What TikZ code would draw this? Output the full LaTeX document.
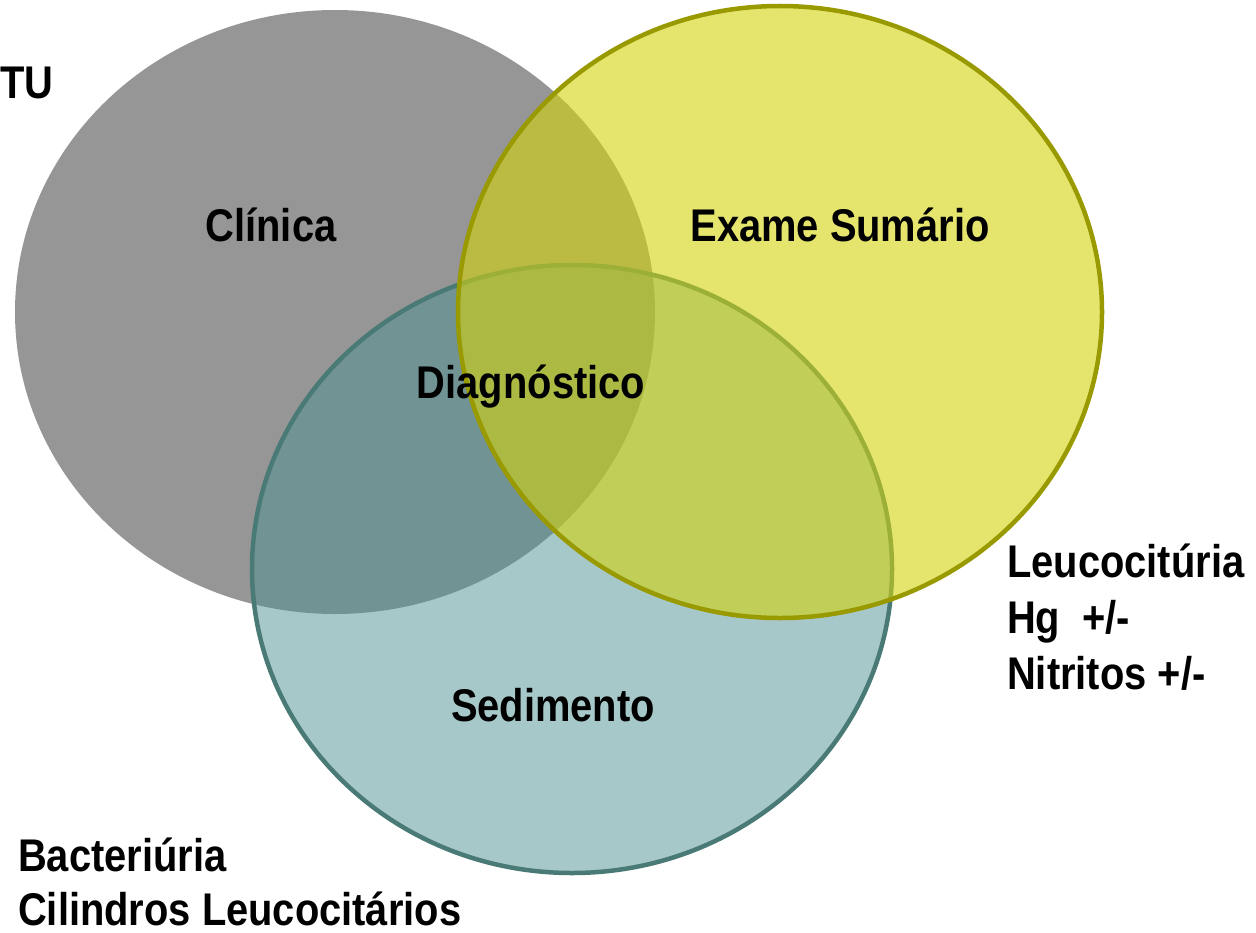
\documentclass[tikz,border=0pt]{standalone}
\usepackage{fontspec}
\setmainfont{Liberation Sans}[FakeStretch=0.87]
\begin{document}
\begin{tikzpicture}[x=1bp,y=-1bp,
  lbl/.style={font=\fontsize{46}{56}\selectfont\bfseries, text=black, inner sep=0pt},
  side/.style={lbl, anchor=base west},
  setgray/.style={fill=grayfill},
  setteal/.style={draw=tealedge, line width=4.5bp, fill=tealfill, fill opacity=0.5},
  setyellow/.style={draw=yellowedge, line width=4.5bp, fill=yellowfill, fill opacity=0.6}]
\definecolor{grayfill}{RGB}{150,150,150}
\definecolor{tealfill}{RGB}{78,146,146}
\definecolor{tealedge}{RGB}{74,122,118}
\definecolor{yellowfill}{RGB}{212,212,14}
\definecolor{yellowedge}{RGB}{153,153,0}
\useasboundingbox (0,0) rectangle (1256,933);

% three overlapping sets
\path[setgray] (335,312) ellipse [x radius=320bp, y radius=302bp];
\path[setteal] (572,569) ellipse [x radius=320bp, y radius=304bp];
\path[setyellow] (780,312) ellipse [x radius=322bp, y radius=306bp];

% set names
\node[lbl] (clinica) at (271,225) {Clínica};
\node[lbl] (exame) at (840,225) {Exame Sumário};
\node[lbl] (diag) at (531,387) {Diagnóstico};
\node[lbl] (sed) at (553,705) {Sedimento};

% side notes
\node[side] (tu) at (0,98) {TU};
\node[side] (leuco) at (1007,577) {Leucocitúria};
\node[side] (hg) at (1007,633) {Hg\ \ +/-};
\node[side] (nitr) at (1007,689) {Nitritos +/-};
\node[side] (bact) at (18,871) {Bacteriúria};
\node[side] (cil) at (18,925) {Cilindros Leucocitários};
\end{tikzpicture}
\end{document}
